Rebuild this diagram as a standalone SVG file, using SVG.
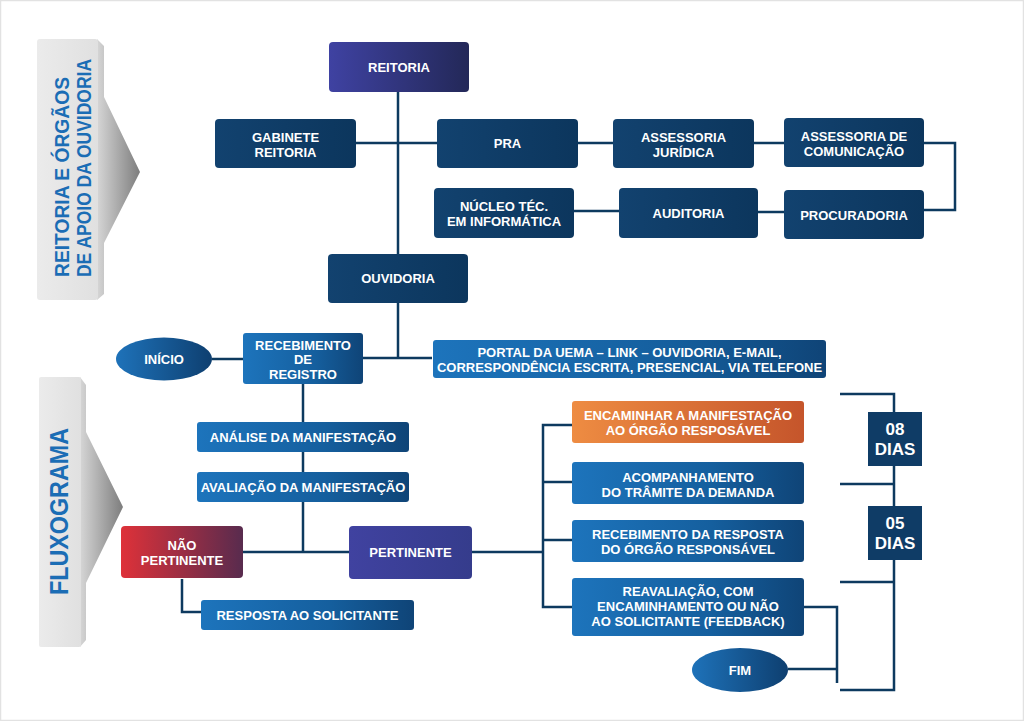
<svg xmlns="http://www.w3.org/2000/svg" width="1024" height="721" viewBox="0 0 1024 721">
<defs>
<linearGradient id="gNavy" x1="0" y1="0" x2="1" y2="0"><stop offset="0" stop-color="#12426f"/><stop offset="1" stop-color="#0c365d"/></linearGradient>
<linearGradient id="gPurple" x1="0" y1="0" x2="1" y2="0"><stop offset="0" stop-color="#3f42a2"/><stop offset="1" stop-color="#232858"/></linearGradient>
<linearGradient id="gPert" x1="0" y1="0" x2="1" y2="0"><stop offset="0" stop-color="#4042a0"/><stop offset="1" stop-color="#353c8c"/></linearGradient>
<linearGradient id="gBlue" x1="0" y1="0" x2="1" y2="0"><stop offset="0" stop-color="#1d74bc"/><stop offset="0.6" stop-color="#155f9e"/><stop offset="1" stop-color="#0f4477"/></linearGradient>
<linearGradient id="gOrange" x1="0" y1="0" x2="1" y2="0"><stop offset="0" stop-color="#ee8c42"/><stop offset="1" stop-color="#c5552b"/></linearGradient>
<linearGradient id="gRed" x1="0" y1="0" x2="1" y2="0"><stop offset="0" stop-color="#de3139"/><stop offset="1" stop-color="#582b4e"/></linearGradient>
<linearGradient id="gEll" x1="0" y1="0" x2="1" y2="0"><stop offset="0" stop-color="#1e72b9"/><stop offset="1" stop-color="#0e3f70"/></linearGradient>
<linearGradient id="gPanel" x1="0" y1="0" x2="1" y2="0"><stop offset="0" stop-color="#ebebeb"/><stop offset="1" stop-color="#e0e0e0"/></linearGradient>
<linearGradient id="gTri" x1="0" y1="0" x2="1" y2="0"><stop offset="0" stop-color="#d6d6d6"/><stop offset="1" stop-color="#7d7d7d"/></linearGradient>
<style>
.t{font-family:"Liberation Sans",Arial,sans-serif;font-weight:bold;font-size:13px;fill:#ffffff;text-anchor:middle}
.d{font-family:"Liberation Sans",Arial,sans-serif;font-weight:bold;font-size:17px;fill:#ffffff;text-anchor:middle}
.v{font-family:"Liberation Sans",Arial,sans-serif;font-weight:bold;fill:#1b6db5}
.c{fill:none;stroke:#0d3a5f;stroke-width:2.5}
</style>
</defs>
<rect x="0.5" y="0.5" width="1023" height="720" fill="#ffffff" stroke="#e2e2e2" stroke-width="1.5"/>

<g id="panel-top">
<polygon points="97,39 104,46 104,97 140,172 104,243 104,294 97,300" fill="url(#gTri)"/>
<rect x="37" y="39" width="61" height="261" rx="3" fill="url(#gPanel)"/>
<text class="v" font-size="21" textLength="200" lengthAdjust="spacingAndGlyphs" transform="translate(69,277) rotate(-90)">REITORIA E ÓRGÃOS</text>
<text class="v" font-size="21" textLength="218" lengthAdjust="spacingAndGlyphs" transform="translate(91,277) rotate(-90)">DE APOIO DA OUVIDORIA</text>
</g>

<g id="panel-bottom">
<polygon points="80,377 86,385 86,432 123,507 86,583 86,640 80,647" fill="url(#gTri)"/>
<rect x="39" y="377" width="42" height="270" rx="2" fill="url(#gPanel)"/>
<text class="v" font-size="25" textLength="167" lengthAdjust="spacingAndGlyphs" transform="translate(68,595) rotate(-90)">FLUXOGRAMA</text>
</g>

<g id="connectors">
<path class="c" d="M398,92 V254"/>
<path class="c" d="M356,143 H437"/>
<path class="c" d="M578,143 H613"/>
<path class="c" d="M754,143 H784"/>
<path class="c" d="M924,143 H955 V210 H924"/>
<path class="c" d="M784,212 H758"/>
<path class="c" d="M619,211 H574"/>
<path class="c" d="M398,303 V358"/>
<path class="c" d="M363,358 H432"/>
<path class="c" d="M212,359 H243"/>
<path class="c" d="M303,384 V552"/>
<path class="c" d="M243,552 H349"/>
<path class="c" d="M182,579 V612 H201"/>
<path class="c" d="M472,552 H543"/>
<path class="c" d="M572,425 H543 V607 H572"/>
<path class="c" d="M543,482 H572"/>
<path class="c" d="M543,540 H572"/>
<path class="c" d="M804,607 H837 V683"/>
<path class="c" d="M788,669 H837"/>
<path class="c" d="M840,394 H894 V690 H840"/>
<path class="c" d="M840,484 H894"/>
<path class="c" d="M840,582 H894"/>
</g>

<g id="reitoria"><rect x="329" y="42" width="140" height="50" rx="4" fill="url(#gPurple)"/><text class="t" x="399" y="71.5">REITORIA</text></g>
<g id="gabinete"><rect x="215" y="119" width="141" height="49" rx="4" fill="url(#gNavy)"/><text class="t" x="285.5" y="141.5">GABINETE</text><text class="t" x="285.5" y="156.5">REITORIA</text></g>
<g id="pra"><rect x="437" y="119" width="141" height="49" rx="4" fill="url(#gNavy)"/><text class="t" x="507.5" y="148">PRA</text></g>
<g id="ass-juridica"><rect x="613" y="119" width="141" height="49" rx="4" fill="url(#gNavy)"/><text class="t" x="683.5" y="141.5">ASSESSORIA</text><text class="t" x="683.5" y="156.5">JURÍDICA</text></g>
<g id="ass-comunicacao"><rect x="784" y="118" width="140" height="49" rx="4" fill="url(#gNavy)"/><text class="t" x="854" y="141">ASSESSORIA DE</text><text class="t" x="854" y="156">COMUNICAÇÃO</text></g>
<g id="nucleo"><rect x="434" y="188" width="140" height="50" rx="4" fill="url(#gNavy)"/><text class="t" x="504" y="210.5">NÚCLEO TÉC.</text><text class="t" x="504" y="225.5">EM INFORMÁTICA</text></g>
<g id="auditoria"><rect x="619" y="188" width="139" height="50" rx="4" fill="url(#gNavy)"/><text class="t" x="688.5" y="218">AUDITORIA</text></g>
<g id="procuradoria"><rect x="784" y="190" width="140" height="49" rx="4" fill="url(#gNavy)"/><text class="t" x="854" y="219.5">PROCURADORIA</text></g>
<g id="ouvidoria"><rect x="328" y="254" width="140" height="49" rx="4" fill="url(#gNavy)"/><text class="t" x="398" y="283">OUVIDORIA</text></g>

<g id="inicio"><ellipse cx="164" cy="359" rx="48" ry="21.5" fill="url(#gEll)"/><text class="t" x="164" y="363.5">INÍCIO</text></g>
<g id="recebimento"><rect x="243" y="333" width="120" height="51" rx="3" fill="url(#gBlue)"/><text class="t" x="303" y="349.5">RECEBIMENTO</text><text class="t" x="303" y="364">DE</text><text class="t" x="303" y="379">REGISTRO</text></g>
<g id="portal"><rect x="433" y="340" width="393" height="38" rx="3" fill="url(#gBlue)"/><text class="t" x="629.5" y="357">PORTAL DA UEMA – LINK – OUVIDORIA, E-MAIL,</text><text class="t" x="629.5" y="371.5">CORRESPONDÊNCIA ESCRITA, PRESENCIAL, VIA TELEFONE</text></g>
<g id="analise"><rect x="197" y="422" width="212" height="30" rx="3" fill="url(#gBlue)"/><text class="t" x="303" y="441.5">ANÁLISE DA MANIFESTAÇÃO</text></g>
<g id="avaliacao"><rect x="197" y="472" width="212" height="30" rx="3" fill="url(#gBlue)"/><text class="t" x="303" y="491.5">AVALIAÇÃO DA MANIFESTAÇÃO</text></g>
<g id="nao-pertinente"><rect x="121" y="526" width="122" height="52" rx="4" fill="url(#gRed)"/><text class="t" x="182" y="549.5">NÃO</text><text class="t" x="182" y="564.5">PERTINENTE</text></g>
<g id="pertinente"><rect x="349" y="526" width="123" height="53" rx="4" fill="url(#gPert)"/><text class="t" x="410.5" y="557">PERTINENTE</text></g>
<g id="resposta"><rect x="201" y="600" width="213" height="30" rx="3" fill="url(#gBlue)"/><text class="t" x="307.5" y="619.5">RESPOSTA AO SOLICITANTE</text></g>

<g id="encaminhar"><rect x="572" y="401" width="232" height="42" rx="3" fill="url(#gOrange)"/><text class="t" x="688" y="420">ENCAMINHAR A MANIFESTAÇÃO</text><text class="t" x="688" y="435">AO ÓRGÃO RESPOSÁVEL</text></g>
<g id="acompanhamento"><rect x="572" y="462" width="232" height="42" rx="3" fill="url(#gBlue)"/><text class="t" x="688" y="481.5">ACOMPANHAMENTO</text><text class="t" x="688" y="496.5">DO TRÂMITE DA DEMANDA</text></g>
<g id="recebimento-resposta"><rect x="572" y="520" width="232" height="42" rx="3" fill="url(#gBlue)"/><text class="t" x="688" y="539">RECEBIMENTO DA RESPOSTA</text><text class="t" x="688" y="554">DO ÓRGÃO RESPONSÁVEL</text></g>
<g id="reavaliacao"><rect x="572" y="578" width="232" height="58" rx="3" fill="url(#gBlue)"/><text class="t" x="688" y="596">REAVALIAÇÃO, COM</text><text class="t" x="688" y="611">ENCAMINHAMENTO OU NÃO</text><text class="t" x="688" y="626">AO SOLICITANTE (FEEDBACK)</text></g>
<g id="fim"><ellipse cx="740" cy="670" rx="48" ry="22" fill="url(#gEll)"/><text class="t" x="740" y="674.5">FIM</text></g>

<g id="dias08"><rect x="868" y="412" width="54" height="54" fill="#0f3c66"/><text class="d" x="895" y="435">08</text><text class="d" x="895" y="455">DIAS</text></g>
<g id="dias05"><rect x="868" y="506" width="54" height="54" fill="#0f3c66"/><text class="d" x="895" y="529">05</text><text class="d" x="895" y="549">DIAS</text></g>
</svg>
